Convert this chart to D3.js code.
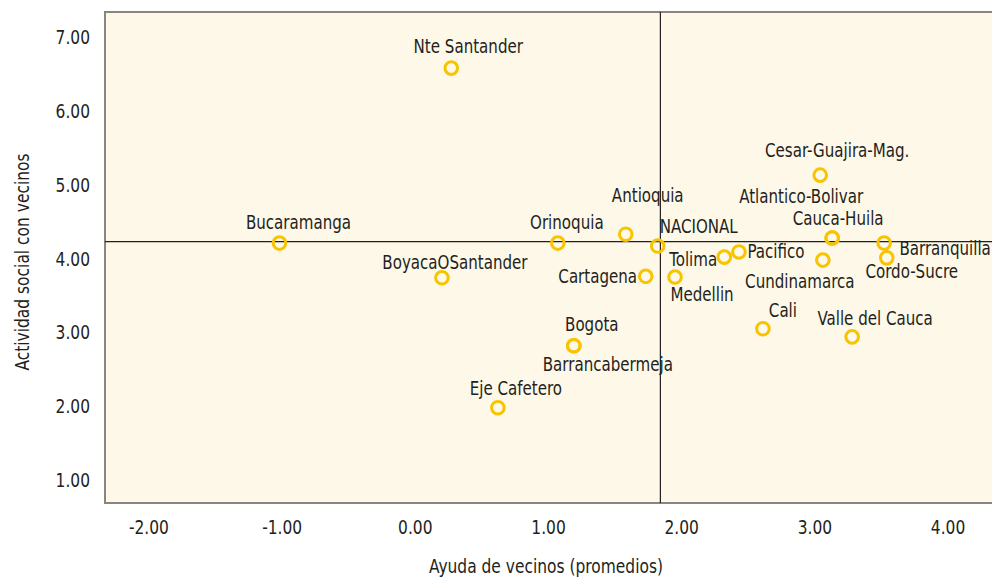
<!DOCTYPE html>
<html><head><meta charset="utf-8">
<script src="https://cdn.jsdelivr.net/npm/d3@7"></script>
<style>
body{margin:0;background:#fff;}
text{font-family:"Liberation Sans Narrow","DejaVu Sans Condensed","Arial Narrow",sans-serif;fill:#231f20;}
</style></head>
<body><svg id="c" width="992" height="578"></svg>
<script>
const names = ["Nte Santander","Bucaramanga","BoyacaOSantander","Orinoquia","Antioquia","NACIONAL","Tolima","Pacifico","Cartagena","Medellin","Cesar-Guajira-Mag.","Atlantico-Bolivar","Cauca-Huila","Barranquilla","Cordo-Sucre","Cundinamarca","Cali","Valle del Cauca","Bogota","Barrancabermeja","Eje Cafetero"];
const ayuda = [0.27,-1.02,0.20,1.07,1.58,1.82,2.32,2.43,1.73,1.95,3.04,3.13,3.13,3.52,3.54,3.06,2.61,3.28,1.19,1.19,0.62];
const actividad = [6.58,4.21,3.74,4.21,4.33,4.17,4.02,4.09,3.76,3.75,5.13,4.28,4.28,4.21,4.01,3.98,3.05,2.94,2.82,2.82,1.98];
const xTicks = [-2,-1,0,1,2,3,4];
const yTicks = [1,2,3,4,5,6,7];
const refX = 1.84, refY = 4.23;
// label layout offsets (pixels, relative to point)
const labelDX = [17,19,13,9,22,41,-31,37,-48,27,17,-31,6,61,25,-23,20,23,18,34,18];
const labelDY = [-22,-21,-16,-21,-39,-20,2,-1,0,17,-25,-42,-20,5,13,21,-19,-19,-22,18,-20];

const svg = d3.select("#c");
const L=105,R=992,T=12,B=503;
const SX = 0.86;
const x = d3.scaleLinear().domain([-2.33,4.33]).range([L,R]);
const y = d3.scaleLinear().domain([0.69,7.34]).range([B,T]);

function txt(g, px, py, s, anchor, size, rot){
  return g.append("text")
    .attr("transform",`translate(${px},${py})${rot?` rotate(${rot})`:""} scale(${SX},1)`)
    .attr("text-anchor",anchor).attr("dominant-baseline","central")
    .attr("font-size",size).text(s);
}

svg.append("rect").attr("x",L).attr("y",T).attr("width",R-L+2).attr("height",B-T)
  .attr("fill","#fef8e8").attr("stroke","#8a857e").attr("stroke-width",2);

svg.append("line").attr("x1",L).attr("x2",R).attr("y1",y(refY)).attr("y2",y(refY)).attr("stroke","#231f20").attr("stroke-width",1.2);
svg.append("line").attr("x1",x(refX)).attr("x2",x(refX)).attr("y1",T).attr("y2",B).attr("stroke","#231f20").attr("stroke-width",1.2);

const fmt = d3.formatLocale({decimal:".",thousands:",",grouping:[3],currency:["",""],minus:"-"}).format(".2f");
yTicks.forEach(d=>txt(svg,90,y(d),fmt(d),"end",20));
xTicks.forEach(d=>txt(svg,x(d),527,fmt(d),"middle",20));

txt(svg,22,262,"Actividad social con vecinos","middle",20,-90);
txt(svg,546,566,"Ayuda de vecinos (promedios)","middle",20);

const data = names.map((n,i)=>({n,x:ayuda[i],y:actividad[i],dx:labelDX[i],dy:labelDY[i]}));
svg.selectAll(".pt").data(data).enter().append("circle")
  .attr("cx",d=>x(d.x)).attr("cy",d=>y(d.y)).attr("r",6.3).attr("fill","none")
  .attr("stroke","#f8c300").attr("stroke-width",3);
data.forEach(d=>txt(svg,x(d.x)+d.dx,y(d.y)+d.dy,d.n,"middle",19.5));
</script></body></html>
